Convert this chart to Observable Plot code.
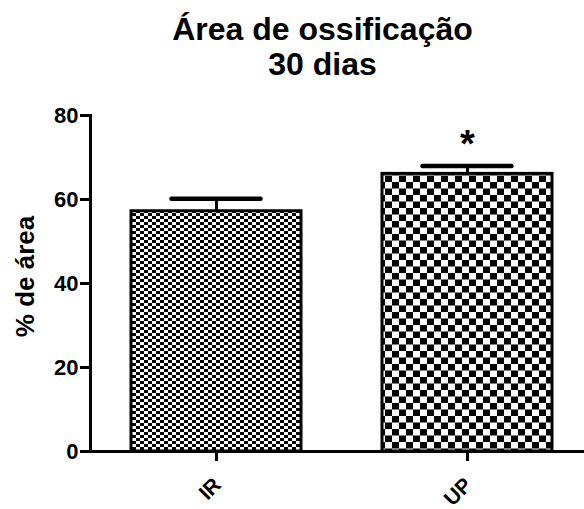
<!DOCTYPE html>
<html>
<head>
<meta charset="utf-8">
<script src="https://cdn.jsdelivr.net/npm/d3@7"></script>
<script src="https://cdn.jsdelivr.net/npm/@observablehq/plot@0.6"></script>
<style>
  html, body { margin: 0; padding: 0; background: white; }
  #chart svg { display: block; }
</style>
</head>
<body>
<div id="chart"></div>
<script>
// ---- data ----
const groups = ["IR", "UP"];
const means = [57.2, 66.1];
const errors = [3.0, 1.9];
const yTicks = [0, 20, 40, 60, 80];
const significance = [{group: "UP", label: "*"}];
const titleLines = ["Área de ossificação", "30 dias"];
const yLabel = "% de área";

const data = groups.map((g, i) => ({group: g, value: means[i], upper: means[i] + errors[i]}));
const upperOf = Object.fromEntries(data.map(d => [d.group, d.upper]));

const FONT = "'Liberation Sans', Arial, Helvetica, sans-serif";

// pattern defs mark
const defsMark = () => {
  const defs = d3.create("svg:defs");
  const fine = defs.append("pattern").attr("id", "fineCheck").attr("patternUnits", "userSpaceOnUse")
    .attr("width", 8).attr("height", 6);
  fine.append("rect").attr("width", 8).attr("height", 6).attr("fill", "white");
  fine.append("rect").attr("x", 0).attr("y", 0).attr("width", 4).attr("height", 3).attr("fill", "black");
  fine.append("rect").attr("x", 4).attr("y", 3).attr("width", 4).attr("height", 3).attr("fill", "black");
  const coarse = defs.append("pattern").attr("id", "coarseCheck").attr("patternUnits", "userSpaceOnUse")
    .attr("width", 14).attr("height", 13);
  coarse.append("rect").attr("width", 14).attr("height", 13).attr("fill", "white");
  coarse.append("rect").attr("x", 0).attr("y", 0).attr("width", 7).attr("height", 6.5).attr("fill", "black");
  coarse.append("rect").attr("x", 7).attr("y", 6.5).attr("width", 7).attr("height", 6.5).attr("fill", "black");
  return defs.node();
};

const chart = Plot.plot({
  width: 584,
  height: 509,
  marginLeft: 90,
  marginRight: 0,
  marginTop: 115,
  marginBottom: 58,
  style: {fontFamily: FONT, background: "white", color: "black", overflow: "visible"},
  x: {type: "band", domain: groups, range: [90, 594], paddingInner: 0.321, paddingOuter: 0.161, axis: null},
  y: {type: "linear", domain: [0, 80], axis: null},
  marks: [
    defsMark,
    Plot.barY(data.filter(d => d.group === "IR"), {x: "group", y: "value", fill: "url(#fineCheck)", stroke: "black", strokeWidth: 3}),
    Plot.barY(data.filter(d => d.group === "UP"), {x: "group", y: "value", fill: "url(#coarseCheck)", stroke: "black", strokeWidth: 3}),
    Plot.ruleX(data, {x: "group", y1: "value", y2: "upper", stroke: "black", strokeWidth: 3}),
    Plot.tickY(data, {x: "group", y: "upper", stroke: "black", strokeWidth: 4.5, strokeLinecap: "round", insetLeft: 40.5, insetRight: 40.5}),
    Plot.text(significance, {x: "group", y: d => upperOf[d.group], text: "label", dy: -21, fontSize: 38, fontWeight: "bold"}),
    // axes
    Plot.axisY({ticks: yTicks, tickSize: 10, tickPadding: 2, strokeWidth: 3, fontSize: 22, fontWeight: "bold", tickFormat: d => d, label: null}),
    Plot.frame({anchor: "left", strokeWidth: 3}),
    Plot.ruleY([0], {strokeWidth: 3}),
    Plot.axisX({tickSize: 10, strokeWidth: 3, tickFormat: () => "", label: null}),
    Plot.text(groups, {x: d => d, y: () => 0, text: d => d, rotate: -45, textAnchor: "end", lineAnchor: "middle", dx: 1, dy: 30, fontSize: 21, fontWeight: "bold"}),
    // y label
    Plot.text([yLabel], {frameAnchor: "left", textAnchor: "middle", lineAnchor: "middle", rotate: -90, dx: -65, dy: -7, fontSize: 26, fontWeight: "bold"}),
    // title
    Plot.text([titleLines[0]], {frameAnchor: "top", textAnchor: "middle", dx: -15, dy: 28.8 - 115, lineAnchor: "middle", fontSize: 32, fontWeight: "bold"}),
    Plot.text([titleLines[1]], {frameAnchor: "top", textAnchor: "middle", dx: -15, dy: 63.8 - 115, lineAnchor: "middle", fontSize: 32, fontWeight: "bold"})
  ]
});
document.getElementById("chart").appendChild(chart);
</script>
</body>
</html>
